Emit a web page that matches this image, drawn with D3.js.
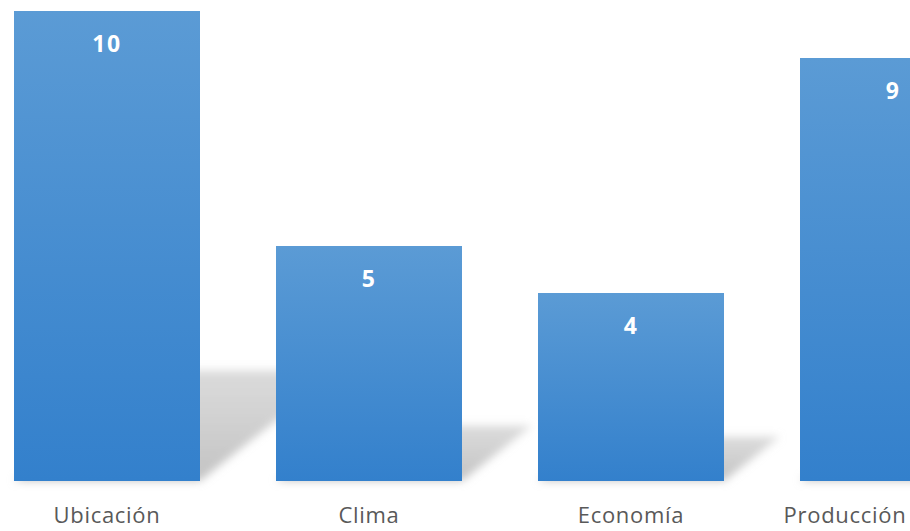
<!DOCTYPE html>
<html><head><meta charset="utf-8">
<script src="https://cdn.jsdelivr.net/npm/d3@7/dist/d3.min.js"></script>
<style>html,body{margin:0;padding:0;background:#fff;overflow:hidden}</style>
</head><body><svg id="c" width="910" height="531"></svg>
<script>
const categories = ["Ubicación", "Clima", "Economía", "Producción"];
const values = [10, 5, 4, 9];

const W = 910, H = 531;
const svg = d3.select("#c");
const baseY = 481;
const x = d3.scaleBand().domain(categories).range([-24, 1024]).paddingInner(76/262).paddingOuter(38/262);
const y = d3.scaleLinear().domain([0, 10]).range([baseY, 11]);

const defs = svg.append("defs");
const g = defs.append("linearGradient").attr("id","barGrad").attr("x1",0).attr("y1",0).attr("x2",0).attr("y2",1);
g.append("stop").attr("offset","0%").attr("stop-color","#5b9bd5");
g.append("stop").attr("offset","100%").attr("stop-color","#3380cc");
const sg = defs.append("linearGradient").attr("id","shGrad").attr("x1",0).attr("y1",1).attr("x2",0).attr("y2",0);
sg.append("stop").attr("offset","0%").attr("stop-color","#b8b8b8").attr("stop-opacity",0.85);
sg.append("stop").attr("offset","100%").attr("stop-color","#cccccc").attr("stop-opacity",0.7);
const f = defs.append("filter").attr("id","blur").attr("x","-20%").attr("y","-30%").attr("width","140%").attr("height","160%");
f.append("feGaussianBlur").attr("stdDeviation",4);

const data = categories.map((c,i)=>({c, v: values[i]}));

// perspective shadows
svg.append("g").selectAll("path").data(data).join("path")
  .attr("d", d => {
    const x0 = x(d.c), x1 = x0 + x.bandwidth();
    const h = baseY - y(d.v);
    const sh = h * 0.235, dx = sh * 1.26;
    return `M${x0},${baseY} L${x1},${baseY} L${x1+dx},${baseY-sh} L${x0+dx},${baseY-sh} Z`;
  })
  .attr("fill","url(#shGrad)")
  .attr("filter","url(#blur)");

// bars
svg.append("g").selectAll("rect").data(data).join("rect")
  .attr("x", d => x(d.c)).attr("y", d => y(d.v))
  .attr("width", x.bandwidth()).attr("height", d => baseY - y(d.v))
  .attr("fill","url(#barGrad)");

// value labels
svg.append("g").selectAll("text").data(data).join("text")
  .attr("x", d => Math.min(x(d.c) + x.bandwidth()/2, 893))
  .attr("y", d => y(d.v) + 41)
  .attr("text-anchor","middle")
  .attr("font-family","'Open Sans', sans-serif")
  .attr("font-weight","bold").attr("font-size","23px")
  .attr("letter-spacing","1.5px")
  .attr("fill","#fff")
  .text(d => d.v);

// category labels
svg.append("g").selectAll("text").data(data).join("text")
  .attr("x", d => Math.min(x(d.c) + x.bandwidth()/2, 845))
  .attr("y", 523)
  .attr("text-anchor","middle")
  .attr("font-family","'Open Sans', sans-serif")
  .attr("font-size","22px")
  .attr("letter-spacing","0.7px")
  .attr("fill","#595959")
  .text(d => d.c);
</script></body></html>
